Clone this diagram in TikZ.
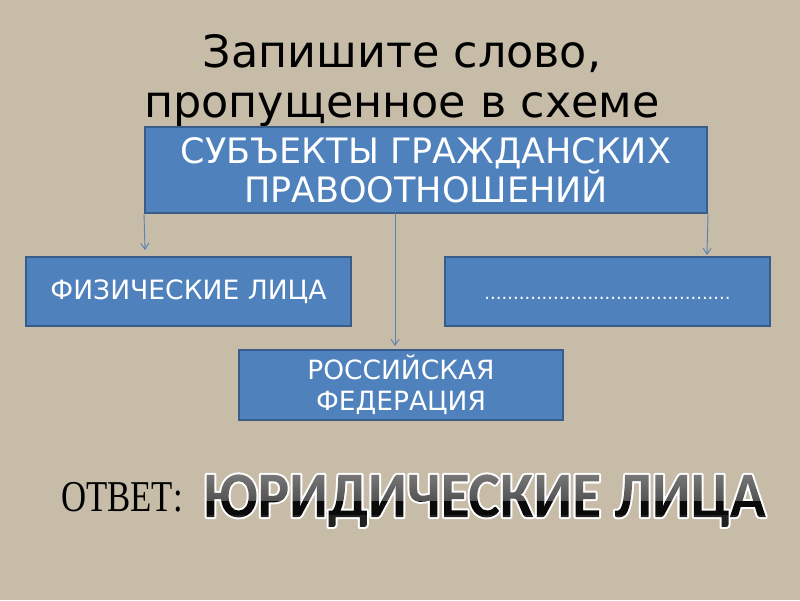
\documentclass[tikz,border=0pt]{standalone}
\usepackage{fontspec}
\setmainfont{DejaVu Sans}
\newfontfamily\otvfont{Liberation Serif}[FakeStretch=0.79]
\newfontfamily\ansfont{Carlito Bold}[FakeStretch=0.915]
\usetikzlibrary{arrows.meta}
\definecolor{bg}{RGB}{198,188,168}
\definecolor{boxfill}{RGB}{79,129,189}
\definecolor{boxline}{RGB}{56,93,138}
\definecolor{arr}{RGB}{90,128,180}
\newcommand\anstext{ЮРИДИЧЕСКИЕ ЛИЦА}
\newcommand\forcegfx{\special{pdf:content 1 w}}
\tikzset{
  bluebox/.style={draw=boxline, line width=2pt, fill=boxfill, text=white,
    inner sep=0pt, align=center},
  conn/.style={draw=arr, line width=0.9pt, -{Straight Barb[length=6pt,width=8pt]}}
}
\begin{document}
\begin{tikzpicture}[x=1pt,y=-1pt]
\useasboundingbox[fill=bg] (0,0) rectangle (800,600);
% title
\node[align=center, font=\fontsize{44.5}{50}\selectfont, text=black] (title) at (402,81)
  {Запишите слово,\\пропущенное в схеме};
% boxes
\node[bluebox, minimum width=562pt, minimum height=86pt,
      font=\fontsize{35}{36}\selectfont] (top) at (426,170)
  {СУБЪЕКТЫ ГРАЖДАНСКИХ\\ПРАВООТНОШЕНИЙ};
\node[bluebox, minimum width=325pt, minimum height=69pt,
      font=\fontsize{26.6}{30}\selectfont] (fiz) at (188.5,291.5) {ФИЗИЧЕСКИЕ ЛИЦА};
\node[bluebox, minimum width=325pt, minimum height=69pt, text height=0pt, text depth=0pt,
      font=\fontsize{18}{20}\selectfont] (blank) at (607.5,291.5)
  {\raisebox{-8pt}{...........................................}};
\node[bluebox, minimum width=324pt, minimum height=70pt,
      font=\fontsize{26.5}{31}\selectfont] (rf) at (401,385)
  {РОССИЙСКАЯ\\ФЕДЕРАЦИЯ};
% connectors
\coordinate (lend) at (145,250);
\coordinate (mstart) at (395,213);
\coordinate (mend) at (395,346);
\coordinate (rend) at (707,255);
\draw[conn] (top.south west) -- (lend);
\draw[conn] (mstart) -- (mend);
\draw[conn] (top.south east) -- (rend);
% answer
\node[anchor=base west, inner sep=0pt, font=\otvfont\fontsize{44}{44}\selectfont]
  (otv) at (61,511) {ОТВЕТ:};
\node[anchor=base west, inner sep=0pt, font=\ansfont\fontsize{65}{65}\selectfont]
  (ans) at (203,517) {%
  \setbox0\hbox{\anstext}%
  \forcegfx\special{pdf:literal direct q 0 g 1 G 4 w 1 j 6 Tr}%
  \rlap{\copy0}\forcegfx\special{pdf:literal direct 0 Tr}%
  \foreach \i in {0,...,35}{%
    \pgfmathsetmacro\yy{-20+2*\i}%
    \ifdim\yy pt<16pt
      \ifdim\yy pt<2pt
        \special{pdf:content 0.13 g -10 \yy\space 640 2.3 re f}%
      \else
        \special{pdf:content 0.04 g -10 \yy\space 640 2.3 re f}%
      \fi
    \else
      \pgfmathsetmacro\gg{0.33+(\yy-16)*0.0055}%
      \special{pdf:content \gg\space g -10 \yy\space 640 2.3 re f}%
    \fi}%
  \special{pdf:literal direct Q}%
  \kern\wd0};
\end{tikzpicture}
\end{document}
